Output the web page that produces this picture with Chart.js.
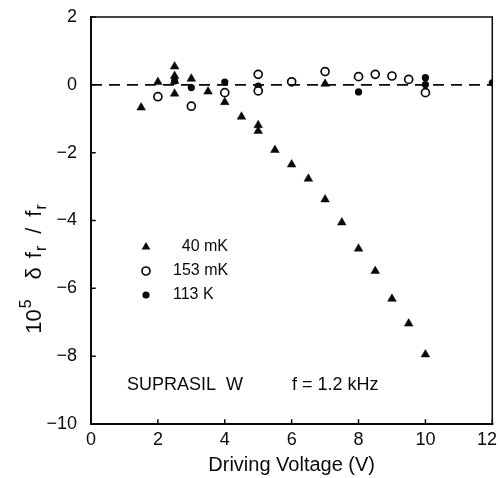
<!DOCTYPE html>
<html>
<head>
<meta charset="utf-8">
<script src="https://cdn.jsdelivr.net/npm/chart.js@4.4.0/dist/chart.umd.min.js"></script>
<style>
  html, body { margin: 0; padding: 0; background: #fff; }
  canvas { display: block; }
</style>
</head>
<body>
<canvas id="chart" width="498" height="478"></canvas>
<script>
// Data (x = driving voltage in V, y = 10^5 df/f)
const tri40X = [1.5, 2.0, 2.5, 2.5, 2.5, 2.5, 3.0, 3.5, 4.0, 4.5, 5.0, 5.0, 5.5, 6.0, 6.5, 7.0, 7.0, 7.5, 8.0, 8.5, 9.0, 9.5, 10.0];
const tri40Y = [-0.67, 0.08, 0.54, 0.26, 0.11, -0.26, 0.18, -0.20, -0.51, -0.94, -1.19, -1.36, -1.92, -2.35, -2.77, 0.03, -3.38, -4.06, -4.83, -5.49, -6.31, -7.04, -7.95];

const open153X = [2.0, 3.0, 4.0, 5.0, 5.0, 6.0, 7.0, 8.0, 8.5, 9.0, 9.5, 10.0];
const open153Y = [-0.35, -0.63, -0.23, 0.31, -0.18, 0.09, 0.39, 0.24, 0.31, 0.26, 0.16, -0.23];

const filled113X = [2.0, 2.5, 3.0, 4.0, 5.0, 6.0, 8.0, 10.0, 10.0, 12.0];
const filled113Y = [-0.35, 0.11, -0.08, 0.08, -0.04, 0.09, -0.21, 0.21, 0.01, 0.06];

const refLineX = [0, 12];
const refLineY = [0, 0];

const legendLabels = ['40 mK', '153 mK', '113 K'];
const xTitle = 'Driving Voltage (V)';
const sampleNote = 'SUPRASIL  W';
const freqNote = 'f = 1.2 kHz';

const INK = '#0a0a0a';
const FONT = 'Arial, "Liberation Sans", Helvetica, sans-serif';

function toPoints(xs, ys) {
    return xs.map((x, i) => ({ x: x, y: ys[i] }));
}

// Frame, inward ticks, x tick labels, y title, legend and notes
const decorations = {
    id: 'decorations',
    afterDraw(chart) {
        const { ctx, chartArea: a, scales } = chart;
        ctx.save();
        ctx.strokeStyle = INK;
        ctx.lineCap = 'square';

        // frame
        ctx.lineWidth = 2;
        ctx.beginPath();
        ctx.moveTo(a.left, a.top);
        ctx.lineTo(a.left, a.bottom);
        ctx.lineTo(a.right, a.bottom);
        ctx.stroke();
        ctx.lineWidth = 1.5;
        ctx.beginPath();
        ctx.moveTo(a.left, a.top);
        ctx.lineTo(a.right, a.top);
        ctx.lineTo(a.right, a.bottom);
        ctx.stroke();

        // inward tick marks
        ctx.lineWidth = 1.5;
        ctx.beginPath();
        scales.x.ticks.forEach(t => {
            const px = scales.x.getPixelForValue(t.value);
            ctx.moveTo(px, a.bottom);
            ctx.lineTo(px, a.bottom - 4);
        });
        scales.y.ticks.forEach(t => {
            const py = scales.y.getPixelForValue(t.value);
            ctx.moveTo(a.left, py);
            ctx.lineTo(a.left + 4, py);
        });
        ctx.stroke();

        ctx.fillStyle = INK;

        // x tick labels (last one kept inside the canvas)
        ctx.font = '18px ' + FONT;
        ctx.textBaseline = 'middle';
        ctx.textAlign = 'center';
        scales.x.ticks.forEach(t => {
            const label = String(t.value);
            const w = ctx.measureText(label).width;
            let px = scales.x.getPixelForValue(t.value);
            px = Math.min(px, chart.width - 1 - w / 2);
            ctx.fillText(label, px, a.bottom + 16);
        });

        // y axis title: 10^5 δf_r/f_r (rotated)
        const pieces = [
            { t: '10', size: 22, dy: 0, gap: 1 },
            { t: '5', size: 16, dy: -10, gap: 20 },
            { t: 'δ', size: 22, dy: 0, gap: 9 },
            { t: 'f', size: 22, dy: 0, gap: 1 },
            { t: 'r', size: 16, dy: 5, gap: 12 },
            { t: '/', size: 22, dy: 0, gap: 11 },
            { t: 'f', size: 22, dy: 0, gap: 1 },
            { t: 'r', size: 16, dy: 5, gap: 0 }
        ];
        let total = 0;
        pieces.forEach(p => {
            ctx.font = p.size + 'px ' + FONT;
            p.w = ctx.measureText(p.t).width;
            total += p.w + p.gap;
        });
        ctx.translate(33, 269);
        ctx.rotate(-Math.PI / 2);
        ctx.textBaseline = 'alphabetic';
        ctx.textAlign = 'left';
        let cx = -total / 2;
        pieces.forEach(p => {
            ctx.font = p.size + 'px ' + FONT;
            ctx.fillText(p.t, cx, 8 + p.dy);
            cx += p.w + p.gap;
        });
        ctx.setTransform(1, 0, 0, 1, 0, 0);

        // legend
        const lx = 146;
        const ly = [247, 271, 295];
        const r = 5;
        ctx.beginPath();
        ctx.moveTo(lx, ly[0] - r);
        ctx.lineTo(lx + r * 0.866, ly[0] + r * 0.5);
        ctx.lineTo(lx - r * 0.866, ly[0] + r * 0.5);
        ctx.closePath();
        ctx.fill();
        ctx.lineWidth = 1.7;
        ctx.beginPath();
        ctx.arc(lx, ly[1], 4, 0, Math.PI * 2);
        ctx.stroke();
        ctx.beginPath();
        ctx.arc(lx, ly[2], 3.6, 0, Math.PI * 2);
        ctx.fill();

        ctx.font = '16px ' + FONT;
        ctx.textBaseline = 'middle';
        ctx.textAlign = 'right';
        ctx.fillText(legendLabels[0], 228, ly[0]);
        ctx.textAlign = 'left';
        ctx.fillText(legendLabels[1], 173, ly[1]);
        ctx.fillText(legendLabels[2], 173, ly[2]);

        // notes
        ctx.font = '18px ' + FONT;
        ctx.fillText(sampleNote, 127, 385);
        ctx.fillText(freqNote, 292, 385);

        ctx.restore();
    }
};

const ctx = document.getElementById('chart').getContext('2d');
const chart = new Chart(ctx, {
    type: 'scatter',
    data: {
        datasets: [
            {
                type: 'line',
                label: 'zero',
                data: toPoints(refLineX, refLineY),
                borderColor: INK,
                borderWidth: 1.8,
                borderDash: [11, 7],
                pointRadius: 0,
                fill: false
            },
            {
                label: legendLabels[0],
                data: toPoints(tri40X, tri40Y),
                pointStyle: 'triangle',
                pointRadius: 5,
                backgroundColor: INK,
                borderColor: INK,
                borderWidth: 0.5
            },
            {
                label: legendLabels[1],
                data: toPoints(open153X, open153Y),
                pointStyle: 'circle',
                pointRadius: 4,
                backgroundColor: '#fff',
                borderColor: INK,
                borderWidth: 1.7
            },
            {
                label: legendLabels[2],
                data: toPoints(filled113X, filled113Y),
                pointStyle: 'circle',
                pointRadius: 3.6,
                backgroundColor: INK,
                borderColor: INK,
                borderWidth: 0
            }
        ]
    },
    options: {
        responsive: false,
        animation: false,
        layout: { padding: { top: 17, right: 5, left: 0, bottom: 0 } },
        plugins: {
            legend: { display: false },
            tooltip: { enabled: false }
        },
        scales: {
            x: {
                type: 'linear',
                min: 0,
                max: 12,
                grid: { display: false },
                border: { display: false },
                ticks: {
                    stepSize: 2,
                    color: 'rgba(0,0,0,0)',
                    padding: 5,
                    maxRotation: 0,
                    font: { family: FONT, size: 18 }
                },
                title: {
                    display: true,
                    text: xTitle,
                    color: INK,
                    font: { family: FONT, size: 20 },
                    padding: { top: 0, bottom: 1 }
                },
                afterFit(scale) {
                    scale.height = 54;
                    scale.paddingLeft = 0;
                    scale.paddingRight = 0;
                }
            },
            y: {
                min: -10,
                max: 2,
                grid: { display: false },
                border: { display: false },
                ticks: {
                    stepSize: 2,
                    color: INK,
                    padding: 6,
                    font: { family: FONT, size: 18 },
                    callback: v => String(v).replace('-', '\u2212')
                },
                afterFit(scale) {
                    scale.width = 91;
                    scale.paddingTop = 0;
                    scale.paddingBottom = 0;
                }
            }
        }
    },
    plugins: [decorations]
});
</script>
</body>
</html>
